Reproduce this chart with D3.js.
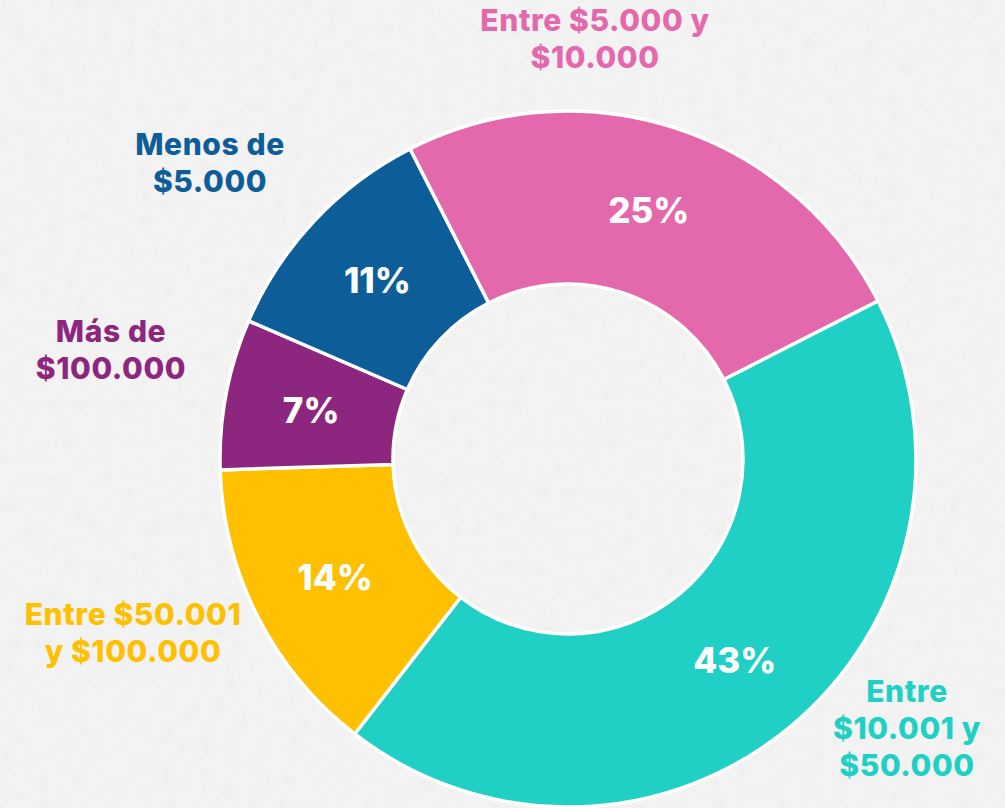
<!DOCTYPE html>
<html>
<head>
<meta charset="utf-8">
<script src="https://cdn.jsdelivr.net/npm/d3@7"></script>
<style>
  html, body { margin: 0; padding: 0; background: #f3f2f2; }
  svg { display: block; }
  text { font-family: Inter, "Open Sans", sans-serif; font-weight: 800; }
</style>
</head>
<body>
<svg id="chart" width="1005" height="808"></svg>
<script>
// data, in drawing order (clockwise from the pink slice)
const categories = [
    ["Entre $5.000 y", "$10.000"],
    ["Entre", "$10.001 y", "$50.000"],
    ["Entre $50.001", "y $100.000"],
    ["Más de", "$100.000"],
    ["Menos de", "$5.000"]
];
const values = [25, 43, 14, 7, 11];

const colors = ["#e468ac", "#20d0c5", "#ffc000", "#8c267f", "#0d5e98"];
// where each outer label block starts (first line baseline), by slice
const labelAnchors = [[595, 31], [907, 702], [133, 625], [111, 342], [210, 155]];

const width = 1005, height = 808;
const cx = 568, cy = 459;
const outerR = 348, innerR = 175;
const startAngle = -27 * Math.PI / 180;

const svg = d3.select("#chart");

// paper-ish background texture
const defs = svg.append("defs");
const noise = defs.append("filter").attr("id", "paper")
    .attr("x", 0).attr("y", 0).attr("width", "100%").attr("height", "100%");
noise.append("feTurbulence")
    .attr("type", "fractalNoise").attr("baseFrequency", 0.08)
    .attr("numOctaves", 3).attr("seed", 4);
noise.append("feColorMatrix").attr("type", "matrix")
    .attr("values", "0 0 0 0 0.5  0 0 0 0 0.5  0 0 0 0 0.5  0 0 0 -1.8 1.0");
svg.append("rect").attr("width", width).attr("height", height).attr("fill", "#f4f3f3");
svg.append("rect").attr("width", width).attr("height", height)
    .attr("filter", "url(#paper)").attr("opacity", 0.08);

const pie = d3.pie()
    .sort(null)
    .startAngle(startAngle)
    .endAngle(startAngle + 2 * Math.PI);

const arc = d3.arc().innerRadius(innerR).outerRadius(outerR);

const slices = pie(values);

const g = svg.append("g").attr("transform", `translate(${cx},${cy})`);

g.selectAll("path.slice")
    .data(slices)
    .join("path")
    .attr("class", "slice")
    .attr("d", arc)
    .attr("fill", (d, i) => colors[i])
    .attr("stroke", "#ffffff")
    .attr("stroke-width", 3.5)
    .attr("stroke-linejoin", "round");

// percentages inside the ring
g.selectAll("text.pct")
    .data(slices)
    .join("text")
    .attr("class", "pct")
    .attr("transform", d => `translate(${arc.centroid(d)})`)
    .attr("text-anchor", "middle")
    .attr("dy", "0.36em")
    .attr("fill", "#ffffff")
    .style("font-size", "35px")
    .text(d => d.value + "%");

// category labels outside
const lineGap = 37;
svg.selectAll("text.cat")
    .data(categories)
    .join("text")
    .attr("class", "cat")
    .attr("text-anchor", "middle")
    .attr("fill", (d, i) => colors[i])
    .style("font-size", "30px")
    .style("letter-spacing", "0.6px")
    .each(function(lines, i) {
        const t = d3.select(this);
        const [x, y] = labelAnchors[i];
        lines.forEach((line, j) => {
            t.append("tspan")
                .attr("x", x)
                .attr("y", y + j * lineGap)
                .text(line);
        });
    });
</script>
</body>
</html>
